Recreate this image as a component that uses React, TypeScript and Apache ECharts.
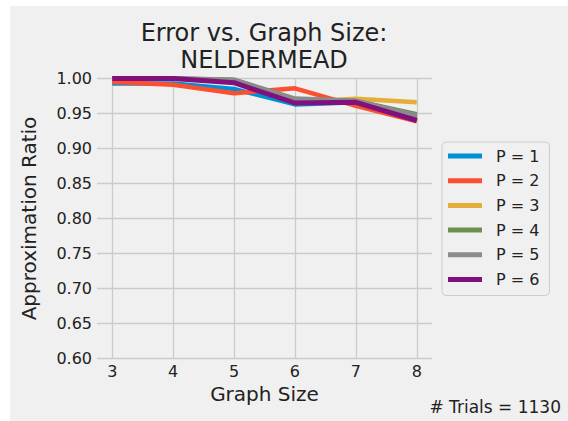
import React, { useEffect, useRef } from "react";
import * as echarts from "echarts";

const graphSizes = [3, 4, 5, 6, 7, 8];
const seriesNames = ["P = 1", "P = 2", "P = 3", "P = 4", "P = 5", "P = 6"];
const p1 = [0.993, 0.993, 0.985, 0.963, 0.966, 0.945];
const p2 = [0.995, 0.991, 0.979, 0.986, 0.961, 0.939];
const p3 = [1.0, 1.0, 0.998, 0.966, 0.971, 0.966];
const p4 = [1.0, 1.0, 0.998, 0.970, 0.968, 0.949];
const p5 = [1.0, 1.0, 0.998, 0.971, 0.968, 0.947];
const p6 = [1.0, 1.0, 0.994, 0.965, 0.966, 0.940];
const seriesValues = [p1, p2, p3, p4, p5, p6];
const colors = ["#008fd5", "#fc4f30", "#e5ae38", "#6d904f", "#8b8b8b", "#810f7c"];
const titleLines = ["Error vs. Graph Size:", "NELDERMEAD"];
const trials = 1130;

const FONT = "DejaVu Sans";

export default function App() {
  const ref = useRef<HTMLDivElement>(null);
  useEffect(() => {
    const chart = echarts.init(ref.current!, null, { renderer: "svg" });
    chart.setOption({
      animation: false,
      backgroundColor: "#ffffff",
      textStyle: { fontFamily: FONT },
      graphic: [
        { type: "rect", z: -10, shape: { x: 10, y: 6, width: 560, height: 420 }, style: { fill: "#f0f0f0" } },
        {
          type: "text", x: 264, y: 21,
          style: { text: titleLines[0], textAlign: "center", textVerticalAlign: "top", fill: "#222222", font: `24px ${FONT}` },
        },
        {
          type: "text", x: 264, y: 48,
          style: { text: titleLines[1], textAlign: "center", textVerticalAlign: "top", fill: "#222222", font: `24px ${FONT}` },
        },
        {
          type: "text", x: 561, y: 398,
          style: { text: `# Trials = ${trials}`, textAlign: "right", fill: "#222222", font: `17px ${FONT}` },
        },
      ],
      grid: { left: 97, right: 136, top: 78.5, bottom: 62.5, containLabel: false },
      legend: {
        orient: "vertical",
        left: 442,
        top: 142,
        icon: "rect",
        itemWidth: 34,
        itemHeight: 5,
        itemGap: 6.7,
        padding: [5, 10, 7, 6],
        backgroundColor: "#f0f0f0",
        borderColor: "#cccccc",
        borderWidth: 1,
        borderRadius: 4,
        textStyle: { fontSize: 16, color: "#222222", fontFamily: FONT, lineHeight: 18, padding: [0, 0, 0, 9] },
        data: seriesNames,
      },
      xAxis: {
        type: "value",
        min: 2.75,
        max: 8.25,
        name: "Graph Size",
        nameLocation: "middle",
        nameGap: 25,
        nameTextStyle: { fontSize: 20, color: "#222222", fontFamily: FONT },
        axisLine: { show: false },
        axisTick: { show: false, customValues: graphSizes },
        axisLabel: { customValues: graphSizes, fontSize: 16, color: "#222222", margin: 5, fontFamily: FONT },
        splitLine: { show: true, lineStyle: { color: "#cbcbcb", width: 1.3 } },
      },
      yAxis: {
        type: "value",
        min: 0.6,
        max: 1.0,
        interval: 0.05,
        name: "Approximation Ratio",
        nameLocation: "middle",
        nameGap: 58,
        nameTextStyle: { fontSize: 20, color: "#222222", fontFamily: FONT },
        axisLine: { show: false },
        axisTick: { show: false },
        axisLabel: { fontSize: 16, color: "#222222", margin: 5, fontFamily: FONT, formatter: (v: number) => v.toFixed(2) },
        splitLine: { show: true, lineStyle: { color: "#cbcbcb", width: 1.3 } },
      },
      series: seriesNames.map((name, i) => ({
        name,
        type: "line",
        data: graphSizes.map((g, j) => [g, seriesValues[i][j]]),
        showSymbol: false,
        symbol: "none",
        clip: true,
        lineStyle: { color: colors[i], width: i >= 4 ? 5 : 4.5 },
        itemStyle: { color: colors[i] },
      })),
    });
    return () => chart.dispose();
  }, []);
  return (
    <div style={{ position: "absolute", left: 0, top: 0 }}>
      <div ref={ref} style={{ width: 568, height: 421 }} />
    </div>
  );
}
